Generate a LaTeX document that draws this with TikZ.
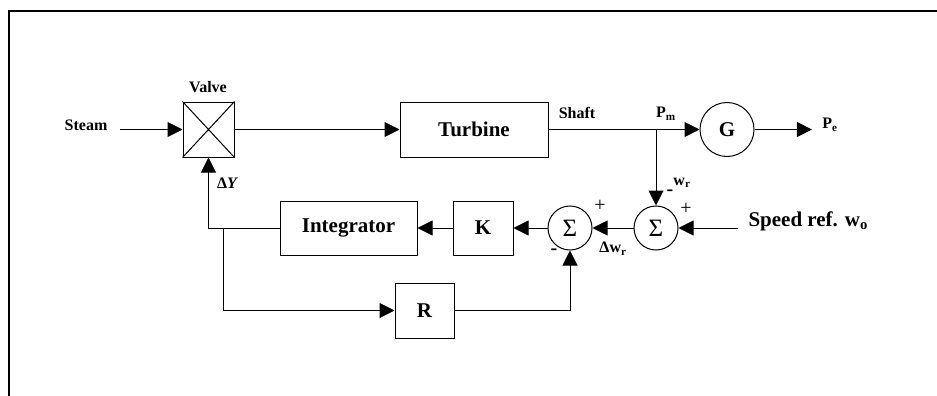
\documentclass[tikz,border=0pt]{standalone}
\usepackage{fontspec}
\setmainfont{Liberation Serif}
\usetikzlibrary{arrows.meta,positioning}

\begin{document}
\begin{tikzpicture}[x=1pt, y=-1pt, >={Triangle[length=15pt,width=15pt]}, line width=1pt,
    blk/.style={draw, inner sep=0pt, font=\bfseries\fontsize{21}{24}\selectfont},
    sumnode/.style={draw, circle, minimum size=44pt, inner sep=0pt, font=\fontsize{25}{26}\selectfont},
    lbl/.style={inner sep=0pt, font=\bfseries\fontsize{16}{18}\selectfont},
    biglbl/.style={inner sep=0pt, font=\bfseries\fontsize{21}{24}\selectfont},
    sgn/.style={inner sep=0pt, font=\fontsize{20}{22}\selectfont}]

  \useasboundingbox (0,0) rectangle (937,396);

  %--- Frame
  \draw[line width=1.8pt] (9,396) -- (9,11) -- (937,11);

  %--- Forward path: valve, turbine, generator
  \node[lbl] (steam) at (86,125) {Steam};
  \node[blk, minimum width=51pt, minimum height=55pt] (valve) at (208.5,129.5) {};
  \draw (valve.north west) -- (valve.south east) (valve.north east) -- (valve.south west);
  \node[lbl] (valvelbl) at (208,87) {Valve};
  \node[blk, minimum width=148pt, minimum height=55pt] (turbine) at (474,129.5) {Turbine};
  \node[lbl] (shaft) at (577,113) {Shaft};
  \node[blk, circle, minimum size=54pt] (gen) at (727,129.5) {G};
  \node[lbl] (pmlbl) at (666,114) {P\textsubscript{m}};
  \node[lbl] (pe) at (830,125) {P\textsubscript{e}};
  \coordinate (pm) at (656,129.5);

  \draw[->] ([xshift=12.5pt]steam.east |- valve.west) -- (valve.west);
  \draw[->] (valve.east) -- (turbine.west);
  \draw[->] (turbine.east) -- (gen.west);
  \draw[->] (gen.east) -- ([xshift=-10pt]pe.west |- gen.east);

  %--- Speed loop
  \node[sumnode] (sum2) at (656,228) {Σ};
  \node[sumnode] (sum1) at (570,228) {Σ};
  \node[blk, minimum width=60pt, minimum height=54pt] (K) at (483,228) {K};
  \node[blk, minimum width=137pt, minimum height=54pt] (integ) at (348.5,228) {Integrator};
  \node[blk, minimum width=59pt, minimum height=55pt] (rgain) at (424.5,310.5) {R};
  \node[biglbl, anchor=west] (speed) at (748,221) {Speed ref. w\textsubscript{o}};
  \coordinate (br) at (223,228);

  \draw[->] ([xshift=-10pt]speed.west |- sum2.east) -- (sum2.east);
  \draw[->] (pm) -- (sum2.north);
  \draw[->] (sum2) -- (sum1);
  \draw[->] (sum1) -- (K);
  \draw[->] (K) -- (integ);
  \draw[->] (integ.west) -| (valve.south);
  \draw[->] (br) |- (rgain.west);
  \draw[->] (rgain.east) -| (sum1.south);

  %--- Signs and signal names
  \node[lbl] (dy) at (227,183) {Δ\itshape Y};
  \node[lbl] (wr) at (682,183) {w\textsubscript{r}};
  \node[lbl] (dwr) at (613,249) {Δw\textsubscript{r}};
  \node[lbl, font=\bfseries\fontsize{20}{22}\selectfont] (m2) at (670,193) {-};
  \node[sgn] (p2) at (686,209) {+};
  \node[sgn] (p1) at (600,206) {+};
  \node[lbl, font=\bfseries\fontsize{20}{22}\selectfont] (m1) at (554,252) {-};

\end{tikzpicture}
\end{document}
